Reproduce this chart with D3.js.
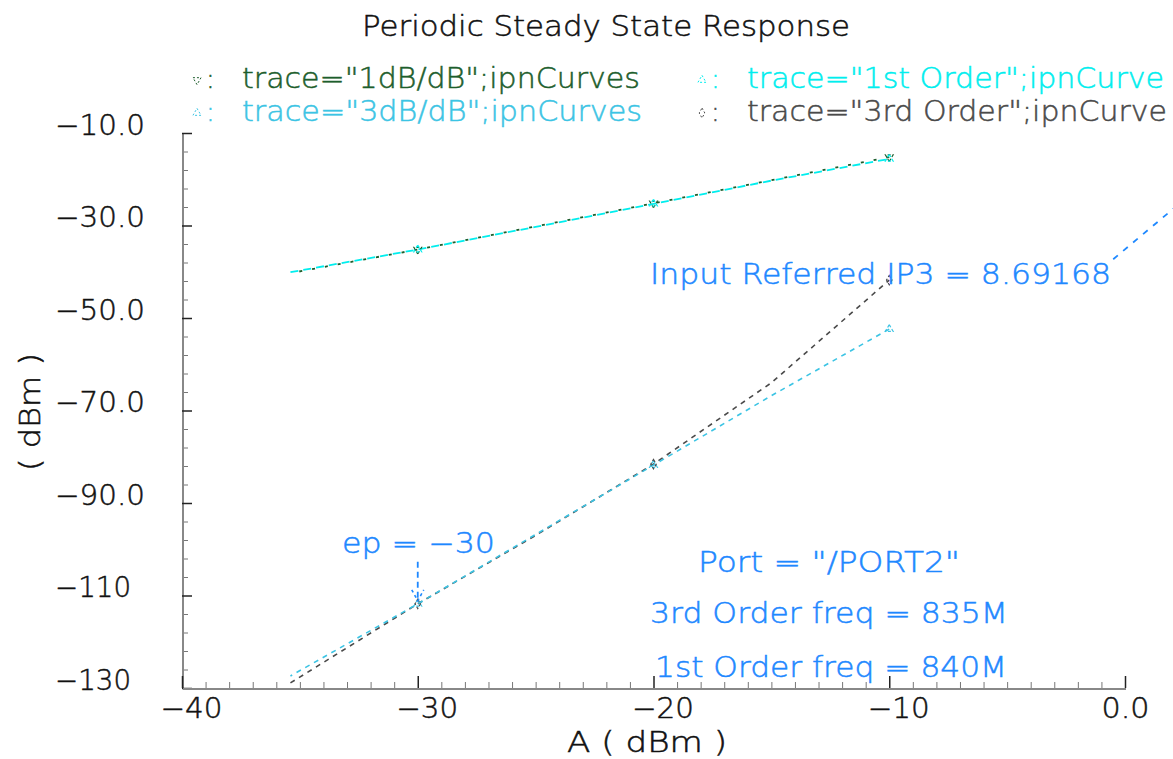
<!DOCTYPE html>
<html>
<head>
<meta charset="utf-8">
<script src="https://cdn.jsdelivr.net/npm/d3@7"></script>
<style>
  body { margin: 0; background: #fff; }
  svg text { font-family: "DejaVu Sans", sans-serif; font-weight: 200; stroke-width: 0.5px; }
</style>
</head>
<body>
<div id="chart"></div>
<script>
const svgWidth = 1173,
      svgHeight = 759;

// ticks
const xTicks = [-40, -30, -20, -10, 0];
const xTickLabels = ["\u221240", "\u221230", "\u221220", "\u221210", "0.0"];
const yTicks = [-10, -30, -50, -70, -90, -110, -130];
const yTickLabels = ["\u221210.0", "\u221230.0", "\u221250.0", "\u221270.0", "\u221290.0", "\u2212110", "\u2212130"];

// input power sweep (dBm) and output curves
const inputPower  = [-35.4, -30, -25, -20, -15, -10];
const firstOrder  = [-40.1, -35.2, -30.3, -25.3, -20.3, -15.6];
const oneDbLine   = [-40.3, -35.2, -30.2, -25.2, -20.2, -15.2];
const thirdOrder  = [-128.9, -111.8, -97.0, -81.6, -64.0, -41.8];
const threeDbLine = [-127.4, -111.8, -96.8, -81.8, -66.8, -52.4];

// guide line heading toward the intercept
const guideX = [-0.5, 2.3];
const guideY = [-37.3, -25.3];

const markerX = [-30, -20, -10];

const legendNames  = ['trace="1dB/dB";ipnCurves', 'trace="3dB/dB";ipnCurves',
                      'trace="1st Order";ipnCurve', 'trace="3rd Order";ipnCurve'];
const legendColors = ["#1d5e2c", "#3cc4e4", "#00eeee", "#4a4a4a"];

const annotColor = "#1e88ff";

//////////////////////////////////////////////////////////////////////////////

const svg = d3.select("#chart")
  .append("svg")
  .attr("width", svgWidth)
  .attr("height", svgHeight);

const x = d3.scaleLinear().domain([-40, 0]).range([182, 1125]);
const y = d3.scaleLinear().domain([-130, -10]).range([688, 133]);

// title
svg.append("text")
  .attr("x", 362).attr("y", 36)
  .attr("textLength", 488).attr("lengthAdjust", "spacingAndGlyphs")
  .style("font-size", "28px").attr("fill", "#111").attr("stroke", "#111")
  .text("Periodic Steady State Response");

// legend
const legendPos = [[192, 88], [192, 121], [697, 88], [697, 121]];
const legendWidths = [398, 400, 417, 420];
const legendSymbols = [d3.symbolTriangle, d3.symbolTriangle, d3.symbolTriangle, d3.symbolDiamond];

legendNames.forEach(function(name, i) {
  const g = svg.append("g").attr("transform", `translate(${legendPos[i][0]}, ${legendPos[i][1]})`);
  g.append("path")
    .attr("d", d3.symbol(legendSymbols[i], 28)())
    .attr("transform", `translate(5, -8) rotate(${i == 0 ? 180 : 0})`)
    .attr("fill", "none")
    .attr("stroke", legendColors[i])
    .attr("stroke-dasharray", "2,2");
  g.append("text")
    .attr("x", 14).attr("y", 0)
    .style("font-size", "26px").attr("fill", legendColors[i]).attr("stroke", legendColors[i])
    .text(":");
  g.append("text")
    .attr("x", 50).attr("y", 0)
    .attr("textLength", legendWidths[i]).attr("lengthAdjust", "spacingAndGlyphs")
    .style("font-size", "28px").attr("fill", legendColors[i]).attr("stroke", legendColors[i])
    .text(name);
});

//////////////////////////////////////////////////////////////////////////////
// axes

const minorY = d3.range(-130, -9, 4).filter(d => (d + 130) % 20 != 0);
const minorX = d3.range(-40, 1, 1).filter(d => d % 10 != 0);

const yAxisMinor = svg.append("g")
  .attr("transform", "translate(182, 0)")
  .call(d3.axisLeft(y).tickValues(minorY).tickSize(-6).tickSizeOuter(0).tickFormat(""));
yAxisMinor.select(".domain").remove();
yAxisMinor.selectAll("line").attr("stroke", "#777");

const yAxis = svg.append("g")
  .attr("transform", "translate(182, 0)")
  .call(d3.axisLeft(y).tickValues(yTicks).tickSize(-10).tickSizeOuter(0)
    .tickFormat((d, i) => yTickLabels[i]));
yAxis.select(".domain").attr("stroke", "#888").attr("stroke-width", 2);
yAxis.selectAll("line").attr("stroke", "#222").attr("stroke-width", 1.5);
yAxis.selectAll("text")
  .attr("x", 55 - 182).attr("dy", 0).attr("y", 1)
  .attr("text-anchor", "start")
  .attr("textLength", (d, i) => i < 5 ? 90 : 76)
  .attr("lengthAdjust", "spacingAndGlyphs")
  .style("font-size", "28px").attr("fill", "#111").attr("stroke", "#111");

const xAxisMinor = svg.append("g")
  .attr("transform", "translate(0, 688)")
  .call(d3.axisBottom(x).tickValues(minorX).tickSize(-6).tickSizeOuter(0).tickFormat(""));
xAxisMinor.select(".domain").remove();
xAxisMinor.selectAll("line").attr("stroke", "#777");

const xAxis = svg.append("g")
  .attr("transform", "translate(0, 688)")
  .call(d3.axisBottom(x).tickValues(xTicks).tickSize(-12).tickSizeOuter(0)
    .tickFormat((d, i) => xTickLabels[i]));
xAxis.select(".domain").attr("stroke", "#888").attr("stroke-width", 2);
xAxis.selectAll("line").attr("stroke", "#222").attr("stroke-width", 1.5);
xAxis.selectAll("text")
  .attr("y", 30).attr("dy", 0)
  .attr("dx", d => d < 0 ? 9 : 0)
  .attr("textLength", d => d < 0 ? 62 : 48)
  .attr("lengthAdjust", "spacingAndGlyphs")
  .style("font-size", "28px").attr("fill", "#111").attr("stroke", "#111");

svg.selectAll(".domain").attr("shape-rendering", "crispEdges");

// axis titles
svg.append("text")
  .attr("x", 647).attr("y", 752)
  .attr("text-anchor", "middle")
  .attr("textLength", 160).attr("lengthAdjust", "spacingAndGlyphs")
  .style("font-size", "28px").attr("fill", "#111").attr("stroke", "#111")
  .text("A ( dBm )");

svg.append("text")
  .attr("transform", "translate(40, 412) rotate(-90)")
  .attr("text-anchor", "middle")
  .attr("textLength", 118).attr("lengthAdjust", "spacingAndGlyphs")
  .style("font-size", "28px").attr("fill", "#111").attr("stroke", "#111")
  .text("( dBm )");

//////////////////////////////////////////////////////////////////////////////
// curves

const line = d3.line()
  .x(d => x(d[0]))
  .y(d => y(d[1]));

function drawSeries(xs, ys, color, dash, offset, width) {
  const pts = xs.map((v, i) => [v, ys[i]]);
  svg.append("path")
    .datum(pts)
    .attr("d", line)
    .attr("fill", "none")
    .attr("stroke", color)
    .attr("stroke-width", width)
    .attr("stroke-dasharray", dash)
    .attr("stroke-dashoffset", offset);
  return pts;
}

function drawMarkers(xs, ys, color, type, rot) {
  const pts = xs.map((v, i) => [v, ys[i]]).filter(p => markerX.indexOf(p[0]) >= 0);
  svg.selectAll(null)
    .data(pts)
    .enter()
    .append("path")
    .attr("d", d3.symbol(type, 26)())
    .attr("transform", d => `translate(${x(d[0])}, ${y(d[1])}) rotate(${rot})`)
    .attr("fill", "none")
    .attr("stroke", color)
    .attr("stroke-width", 1.2)
    .attr("stroke-dasharray", "3,2");
}

drawSeries(inputPower, thirdOrder, legendColors[3], "5,5", 0, 1.6);
drawSeries(inputPower, threeDbLine, legendColors[1], "5,5", 3, 1.6);
drawSeries(inputPower, firstOrder, legendColors[2], "8,5", 0, 1.8);
drawSeries(inputPower, oneDbLine, legendColors[0], "3,10", -9, 1.8);
drawSeries(guideX, guideY, annotColor, "6,7", 0, 1.8);

drawMarkers(inputPower, oneDbLine, legendColors[0], d3.symbolTriangle, 180);
drawMarkers(inputPower, firstOrder, legendColors[2], d3.symbolTriangle, 0);
drawMarkers(inputPower, threeDbLine, legendColors[1], d3.symbolTriangle, 0);
drawMarkers(inputPower, thirdOrder, legendColors[3], d3.symbolDiamond, 0);

//////////////////////////////////////////////////////////////////////////////
// annotations

const epX = x(-30), epY = y(threeDbLine[1]);
svg.append("line")
  .attr("x1", epX).attr("x2", epX)
  .attr("y1", epY - 42).attr("y2", epY - 4)
  .attr("stroke", annotColor).attr("stroke-width", 1.8)
  .attr("stroke-dasharray", "6,4");
svg.append("path")
  .attr("d", `M${epX - 6},${epY - 14} L${epX},${epY - 3} L${epX + 6},${epY - 14}`)
  .attr("fill", "none").attr("stroke", annotColor).attr("stroke-width", 1.6)
  .attr("stroke-dasharray", "3,3");

const notes = [
  { text: "Input Referred IP3 = 8.69168", x: 650, y: 284, w: 461 },
  { text: "ep = \u221230", x: 342, y: 553, w: 153 },
  { text: "Port = \"/PORT2\"", x: 698, y: 572, w: 262 },
  { text: "3rd Order freq = 835M", x: 650, y: 623, w: 358 },
  { text: "1st Order freq = 840M", x: 655, y: 677, w: 352 }
];

svg.selectAll(null)
  .data(notes)
  .enter()
  .append("text")
  .attr("x", d => d.x)
  .attr("y", d => d.y)
  .attr("textLength", d => d.w)
  .attr("lengthAdjust", "spacingAndGlyphs")
  .style("font-size", "28px")
  .attr("fill", annotColor)
  .attr("stroke", annotColor)
  .text(d => d.text);
</script>
</body>
</html>
